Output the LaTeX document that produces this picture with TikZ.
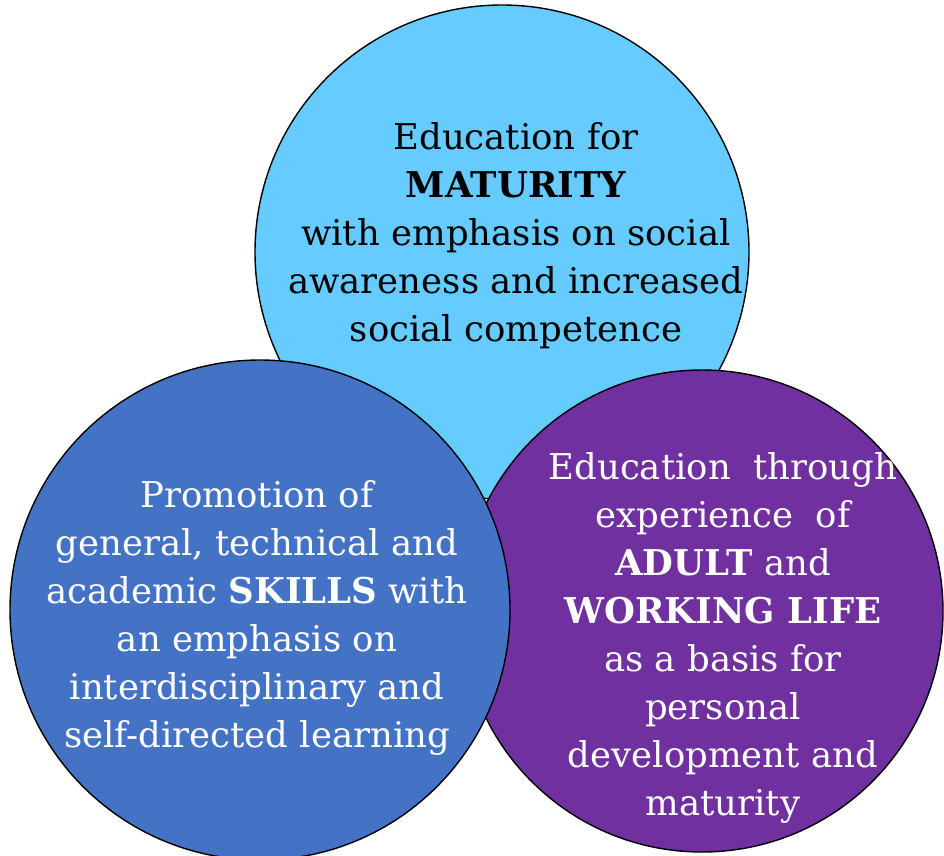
\documentclass[tikz,border=0pt]{standalone}
\usepackage{fontspec}
\setmainfont{DejaVu Serif}
\usepackage{tikz}
\definecolor{colortop}  {RGB}{102,204,255}
\definecolor{colorleft} {RGB}{ 68,114,196}
\definecolor{colorright}{RGB}{112, 48,160}

\begin{document}
\begin{tikzpicture}[
    x=1pt,y=-1pt,
    font={\fontsize{35.5}{48}\selectfont},
    bubble/.style={circle,draw=black,line width=1.4pt,inner sep=0pt},
    txt/.style={align=center,inner sep=0pt}
]
    \useasboundingbox (0,0) rectangle (944,855);

    \node[bubble,fill=colortop,minimum size=494pt] (maturity) at (502,252) {};
    \node[bubble,fill=colorright,minimum size=482pt] (working) at (702,611) {};
    \node[bubble,fill=colorleft,minimum size=500pt] (skills) at (260,610) {};

    \node[txt,text=black] (maturitytxt) at (516,236) {Education for\\\textbf{MATURITY}\\with emphasis on social\\awareness and increased\\social competence};
    \node[txt,text=white] (skillstxt) at (257,618) {Promotion of\\general, technical and\\academic \textbf{SKILLS} with\\an emphasis on\\interdisciplinary and\\self-directed learning};
    \node[txt,text=white] (workingtxt) at (723,638) {Education\ \ through\\experience\ \ of\\\textbf{ADULT} and\\\textbf{WORKING LIFE}\\as a basis for\\personal\\development and\\maturity};

\end{tikzpicture}
\end{document}
